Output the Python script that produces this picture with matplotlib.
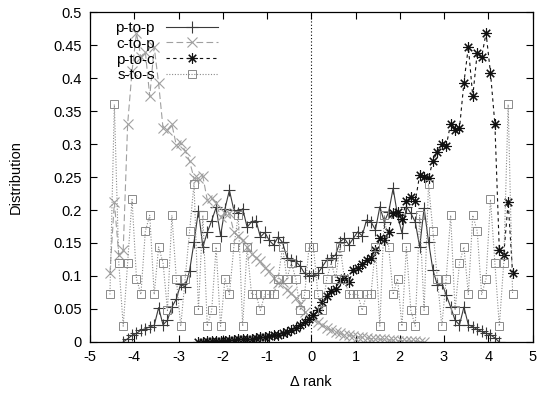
import numpy as np
import matplotlib
matplotlib.use("Agg")
import matplotlib.pyplot as plt

plt.rcParams["font.family"] = ["Liberation Sans", "DejaVu Sans"]

nan = np.nan

# bin centres of delta rank
x = np.round(np.arange(-4.55, 4.56, 0.1), 2)

p_to_p = [nan, nan, nan,
          0.0, 0.005, 0.01, 0.013, 0.018, 0.02, 0.023, 0.025, 0.052, 0.026,
          0.033, 0.053, 0.065, 0.088, 0.083, 0.108, 0.151, 0.199, 0.144, 0.166,
          0.184, 0.204, 0.161, 0.202, 0.23, 0.2, 0.195, 0.202, 0.174, 0.182,
          0.184, 0.159, 0.166, 0.154, 0.147, 0.159, 0.151, 0.128, 0.124, 0.122,
          0.115, 0.104, 0.1,
          0.101, 0.104, 0.114, 0.124, 0.127, 0.132, 0.152, 0.157, 0.147, 0.157,
          0.167, 0.161, 0.185, 0.182, 0.17, 0.205, 0.182, 0.197, 0.233, 0.192,
          0.165, 0.205, 0.195, 0.182, 0.144, 0.203, 0.152, 0.109, 0.086, 0.089,
          0.071, 0.053, 0.033, 0.026, 0.053, 0.026, 0.023, 0.019, 0.016, 0.013,
          0.011, 0.006, 0.0,
          nan, nan, nan]

c_to_p = [0.104, 0.212, 0.132, 0.139, 0.33, 0.411, 0.468, 0.432, 0.44, 0.372,
          0.447, 0.392, 0.324, 0.321, 0.33, 0.298, 0.301, 0.29, 0.274, 0.248,
          0.248, 0.251, 0.215, 0.218, 0.21, 0.19, 0.195, 0.195, 0.167, 0.16,
          0.155, 0.144, 0.134, 0.128, 0.122, 0.112, 0.108, 0.097, 0.089, 0.091,
          0.079, 0.074, 0.066, 0.058, 0.046, 0.04,
          0.035, 0.03, 0.025, 0.021, 0.018, 0.015, 0.013, 0.011, 0.01, 0.009,
          0.008, 0.007, 0.006, 0.005, 0.005, 0.004, 0.004, 0.003, 0.003, 0.002,
          0.002, 0.002, 0.001, 0.001, 0.0, 0.0] + [nan] * 20

p_to_c = [nan] * 20 + [
          0.0, 0.0, 0.001, 0.001, 0.002, 0.002, 0.002, 0.003, 0.003, 0.004,
          0.004, 0.005, 0.005, 0.006, 0.007, 0.008, 0.009, 0.01, 0.011, 0.013,
          0.015, 0.018, 0.021, 0.025, 0.03, 0.035,
          0.041, 0.048, 0.061, 0.069, 0.078, 0.08, 0.094, 0.097, 0.091, 0.109,
          0.112, 0.118, 0.124, 0.128, 0.139, 0.157, 0.155, 0.167, 0.195, 0.197,
          0.187, 0.213, 0.22, 0.213, 0.253, 0.25, 0.248, 0.275, 0.288, 0.3,
          0.297, 0.331, 0.321, 0.324, 0.393, 0.447, 0.372, 0.438, 0.432, 0.468,
          0.408, 0.33, 0.139, 0.132, 0.212, 0.104]

s_to_s = [0.072, 0.36, 0.12, 0.024, 0.12, 0.216, 0.096, 0.072, 0.168, 0.192,
          0.072, 0.144, 0.12, 0.048, 0.192, 0.096, 0.024, 0.096, 0.168, 0.24,
          0.048, 0.192, 0.024, 0.048, 0.144, 0.024, 0.096, 0.072, 0.144, 0.192,
          0.024, 0.144, 0.072, 0.072, 0.048, 0.072, 0.072, 0.072, 0.096, 0.144,
          0.096, 0.12, 0.096, 0.048, 0.072, 0.144,
          0.144, 0.072, 0.048, 0.096, 0.12, 0.096, 0.144, 0.096, 0.072, 0.072,
          0.072, 0.048, 0.072, 0.072, 0.144, 0.024, 0.192, 0.144, 0.072, 0.096,
          0.024, 0.144, 0.048, 0.024, 0.192, 0.048, 0.24, 0.168, 0.096, 0.024,
          0.096, 0.192, 0.048, 0.12, 0.144, 0.072, 0.192, 0.168, 0.072, 0.096,
          0.216, 0.12, 0.024, 0.12, 0.36, 0.072]

x_ticks = [-5, -4, -3, -2, -1, 0, 1, 2, 3, 4, 5]
y_ticks = [0, 0.05, 0.1, 0.15, 0.2, 0.25, 0.3, 0.35, 0.4, 0.45, 0.5]
y_tick_labels = ["0", "0.05", "0.1", "0.15", "0.2", "0.25", "0.3", "0.35",
                 "0.4", "0.45", "0.5"]


def main():
    fig = plt.figure(figsize=(5.41, 3.94), dpi=100)
    ax = fig.add_axes([0.1664, 0.132, 0.8179, 0.8375])

    ax.axvline(0, color="black", lw=0.8, ls=(0, (1, 2)), zorder=1)

    ax.plot(x, p_to_p, color="#3a3a3a", lw=0.8, ls="-",
            marker="+", ms=8, mew=0.8, label="p-to-p")
    ax.plot(x, c_to_p, color="#a0a0a0", lw=0.8, ls=(0, (6, 3)),
            marker="x", ms=6.5, mew=0.8, label="c-to-p")
    ax.plot(x, p_to_c, color="#111111", lw=0.8, ls=(0, (3, 3)),
            marker=(8, 2, 0), ms=7.5, mew=0.8, label="p-to-c")
    ax.plot(x, s_to_s, color="#8a8a8a", lw=0.8, ls=(0, (1, 1.5)),
            marker="s", ms=5.5, mew=0.7, mfc="none", label="s-to-s")

    ax.set_xlim(-5, 5)
    ax.set_ylim(0, 0.5)
    ax.set_xticks(x_ticks)
    ax.set_xticklabels([str(t) for t in x_ticks])
    ax.set_yticks(y_ticks)
    ax.set_yticklabels(y_tick_labels)
    ax.tick_params(direction="in", top=True, right=True, length=5,
                   width=0.8, labelsize=10.5, pad=6)
    for sp in ax.spines.values():
        sp.set_linewidth(0.9)

    ax.set_xlabel("\u0394 rank", fontsize=10.5, labelpad=8)
    ax.set_ylabel("Distribution", fontsize=10.5, labelpad=22)

    ax.legend(loc="upper left", bbox_to_anchor=(0.03, 1.01), frameon=False,
              markerfirst=False, fontsize=11, handlelength=3.4,
              handletextpad=0.7, labelspacing=0.12, borderpad=0.3)

    fig.savefig("out.png", dpi=100)


if __name__ == "__main__":
    main()
